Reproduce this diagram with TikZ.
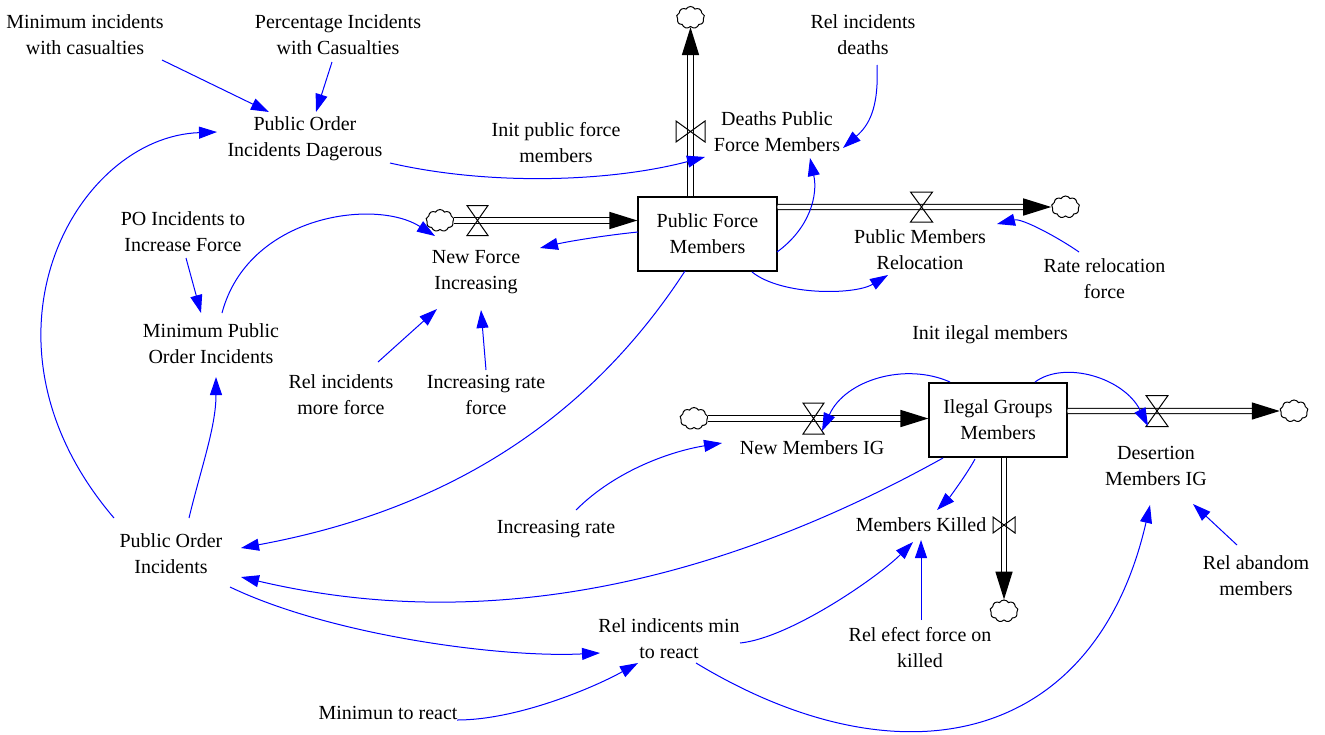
\documentclass[tikz,border=0pt]{standalone}
\usepackage{fontspec}
\setmainfont{Liberation Serif}
\usetikzlibrary{arrows.meta,shapes.symbols}
\definecolor{linkblue}{RGB}{0,0,255}
\newcommand\hglass[1]{\draw[valveline] (#1.north west) -- (#1.north east) -- (#1.south west) -- (#1.south east) -- cycle;}
\newcommand\vbowtie[1]{\draw[valveline] (#1.north west) -- (#1.south west) -- (#1.north east) -- (#1.south east) -- cycle;}
\newcommand\flowpipe[2]{\draw[pipe] #1 -- #2; \draw[pipehead] #1 -- #2;}
\begin{document}
\begin{tikzpicture}[x=0.5pt,y=-0.5pt,
  lbl/.style={font=\fontsize{10}{13}\selectfont, align=center, inner sep=0pt, text=black},
  stock/.style={lbl, draw=black, line width=0.6pt, fill=white, minimum width=69.5pt, minimum height=37pt},
  valvenode/.style={inner sep=0pt, outer sep=0pt},
  valveline/.style={draw=black, line width=0.5pt, line join=miter},
  cloudy/.style={cloud, cloud puffs=9, cloud puff arc=120, cloud ignores aspect, draw=black, line width=0.5pt, fill=white, inner sep=0pt, minimum width=14pt, minimum height=11pt},
  pipe/.style={draw=black, line width=0.5pt, double=white, double distance=2.2pt, shorten >=8pt},
  pipehead/.style={draw=white, line width=0.8pt, -{Triangle[length=14pt,width=8.5pt,color=black,fill=black]}},
  link/.style={draw=linkblue, line width=0.5pt, -{Triangle[length=9pt,width=6pt]}}
]
\fill[white] (0,0) rectangle (1325,734);
\useasboundingbox (0,0) rectangle (1325,734);

% stocks
\node[stock] (pfm) at (707.5,234) {Public Force\\Members};
\node[stock, minimum width=69pt] (igm) at (998,420) {Ilegal Groups\\Members};

% clouds
\node[cloudy] (cNF) at (440,220.5) {};
\node[cloudy] (cD) at (690.5,17.5) {};
\node[cloudy] (cR) at (1065.5,207) {};
\node[cloudy] (cNM) at (694,418.5) {};
\node[cloudy] (cDes) at (1294,411) {};
\node[cloudy] (cK) at (1004,611) {};

% valves
\node[valvenode, minimum width=10.5pt, minimum height=15pt] (vNF) at (477.5,220.5) {};
\node[valvenode, minimum width=14.5pt, minimum height=10.5pt] (vD) at (690.5,131.5) {};
\node[valvenode, minimum width=11pt, minimum height=15pt] (vR) at (921.5,207) {};
\node[valvenode, minimum width=10.5pt, minimum height=15.5pt] (vNM) at (813.5,418.5) {};
\node[valvenode, minimum width=11pt, minimum height=15.5pt] (vDes) at (1157,411) {};
\node[valvenode, minimum width=11pt, minimum height=8pt] (vK) at (1004,525) {};

% flow pipes
\flowpipe{(cNF.east)}{(cNF.east -| pfm.west)}
\flowpipe{(cD |- pfm.north)}{(cD.south)}
\flowpipe{(pfm.east |- cR)}{(cR.west)}
\flowpipe{(cNM.east)}{(cNM.east -| igm.west)}
\flowpipe{(igm.east |- cDes)}{(cDes.west)}
\flowpipe{(cK |- igm.south)}{(cK.north)}

\hglass{vNF}
\vbowtie{vD}
\hglass{vR}
\hglass{vNM}
\hglass{vDes}
\vbowtie{vK}

% variables
\node[lbl] (mic) at (85,35) {Minimum incidents\\with casualties};
\node[lbl] (pic) at (338,35) {Percentage Incidents\\with Casualties};
\node[lbl] (poid) at (305,139) {Public Order\\Incidents Dagerous};
\node[lbl] (ipfm) at (556,143) {Init public force\\members};
\node[lbl] (dpfm) at (777,131.5) {Deaths Public\\Force Members};
\node[lbl] (rid) at (863,35) {Rel incidents\\deaths};
\node[lbl] (poiif) at (183,231.5) {PO Incidents to\\Increase Force};
\node[lbl] (nfi) at (476,272) {New Force\\Increasing};
\node[lbl] (pmr) at (920,250) {Public Members\\Relocation};
\node[lbl] (rrf) at (1104.5,279) {Rate relocation\\force};
\node[lbl] (mpoi) at (211,344) {Minimum Public\\Order Incidents};
\node[lbl] (rimf) at (341,395) {Rel incidents\\more force};
\node[lbl] (irf) at (486,395) {Increasing rate\\force};
\node[lbl] (iim) at (990,335) {Init ilegal members};
\node[lbl] (nmig) at (812,448) {New Members IG};
\node[lbl] (dmig) at (1156,466) {Desertion\\Members IG};
\node[lbl] (ir) at (556,529) {Increasing rate};
\node[lbl] (mk) at (921,525) {Members Killed};
\node[lbl] (poi) at (171,554) {Public Order\\Incidents};
\node[lbl] (ram) at (1256,575.5) {Rel abandom\\members};
\node[lbl] (rimr) at (669,638.5) {Rel indicents min\\to react};
\node[lbl] (refk) at (920,648) {Rel efect force on\\killed};
\node[lbl] (mtr) at (388,713) {Minimun to react};

% causal links
\draw[link] ([shift={(77,25)}]mic.center) -- ([shift={(-36,-27)}]poid.center);
\draw[link] ([shift={(-6,27)}]pic.center) -- ([shift={(11,-27)}]poid.center);
\draw[link] ([shift={(-57,-36)}]poi.center) .. controls +(-152,-178) and +(-142,5) .. ([shift={(-88,-7)}]poid.center);
\draw[link] ([shift={(85,24)}]poid.center) .. controls +(100,23) and +(-95,25) .. ([shift={(-72,25.5)}]dpfm.center);
\draw[link] ([shift={(14,30)}]rid.center) .. controls +(2,45) and +(25,-22) .. ([shift={(66,16.5)}]dpfm.center);
\draw[link] ([shift={(69.5,18)}]pfm.center) .. controls +(33,-24) and +(8,37) .. ([shift={(33,26.5)}]dpfm.center);
\draw[link] ([shift={(-69.5,-2)}]pfm.center) .. controls +(-30,3) and +(30,-7) .. ([shift={(64,-24)}]nfi.center);
\draw[link] ([shift={(11,-31)}]mpoi.center) .. controls +(26,-98) and +(-60,-38) .. ([shift={(-41,-36)}]nfi.center);
\draw[link] ([shift={(3,26.5)}]poiif.center) -- ([shift={(-10,-31)}]mpoi.center);
\draw[link] ([shift={(37,-33)}]rimf.center) -- ([shift={(-39,37)}]nfi.center);
\draw[link] ([shift={(0,-25)}]irf.center) -- ([shift={(5,38)}]nfi.center);
\draw[link] ([shift={(-22.5,37)}]pfm.center) .. controls +(-110,169) and +(179,-33) .. ([shift={(70,-6)}]poi.center);
\draw[link] ([shift={(18,-36)}]poi.center) .. controls +(12,-50) and +(0,50) .. ([shift={(5,33)}]mpoi.center);
\draw[link] ([shift={(-55,38)}]igm.center) .. controls +(-243,135) and +(229,54) .. ([shift={(70,23)}]poi.center);
\draw[link] ([shift={(59,33)}]poi.center) .. controls +(100,48) and +(-100,5) .. ([shift={(-69,14.5)}]rimr.center);
\draw[link] ([shift={(69,7)}]mtr.center) .. controls +(60,0) and +(-45,25) .. ([shift={(-31,24.5)}]rimr.center);
\draw[link] ([shift={(20,-19)}]ir.center) .. controls +(40,-40) and +(-50,8) .. ([shift={(-90,-5)}]nmig.center);
\draw[link] ([shift={(-48,-38)}]igm.center) .. controls +(-45,-20) and +(23,-51) .. ([shift={(8.5,12.5)}]vNM.center);
\draw[link] ([shift={(37,-38)}]igm.center) .. controls +(30,-22) and +(-24,-48) .. ([shift={(-9,15)}]vDes.center);
\draw[link] ([shift={(-23,39)}]igm.center) .. controls +(-8,15) and +(12,-12) .. ([shift={(16,-15)}]mk.center);
\draw[link] ([shift={(71,4.5)}]rimr.center) .. controls +(50,-5) and +(-35,35) .. ([shift={(-8,17)}]mk.center);
\draw[link] ([shift={(1,-28)}]refk.center) -- ([shift={(0,15)}]mk.center);
\draw[link] ([shift={(27,24.5)}]rimr.center) .. controls +(205,124) and +(-55,240) .. ([shift={(-6,39)}]dmig.center);
\draw[link] ([shift={(-19,-30.5)}]ram.center) -- ([shift={(37,38)}]dmig.center);
\draw[link] ([shift={(-25.5,-27)}]rrf.center) .. controls +(-20,-14) and +(25,-6) .. ([shift={(77,-26)}]pmr.center);
\draw[link] ([shift={(44.5,38)}]pfm.center) .. controls +(30,24) and +(-33,20) .. ([shift={(-32,25)}]pmr.center);
\end{tikzpicture}
\end{document}
